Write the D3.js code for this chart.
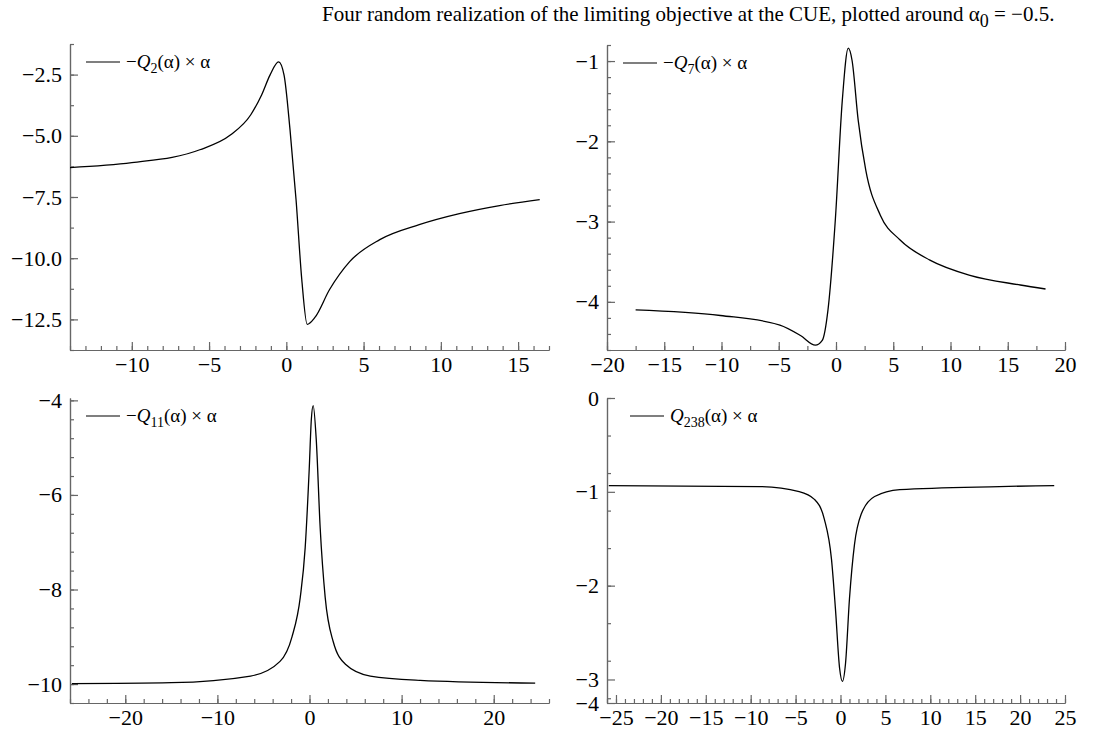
<!DOCTYPE html>
<html>
<head>
<meta charset="utf-8">
<script src="https://cdn.jsdelivr.net/npm/d3@7"></script>
<style>
  body { margin: 0; background: #fff; }
</style>
</head>
<body>
<svg id="svg" width="1107" height="736"></svg>
<script>
// curve values
const q2X = [-14, -10, -5.6, -3.6, -2.3, -1.6, -1.05, -0.5, -0.15, 0.24, 0.63, 1.0, 1.35, 1.85, 2.8, 4.1, 6.05, 8.6, 11.2, 13.8, 16.4];
const q2Y = [-6.30, -6.10, -5.57, -4.96, -4.14, -3.33, -2.51, -1.98, -2.51, -4.76, -7.61, -10.87, -12.70, -12.42, -11.28, -10.14, -9.24, -8.63, -8.18, -7.85, -7.61];

const q7X = [-17.5, -10.1, -4.9, -3.1, -1.8, -1.2, -0.7, -0.06, 0.55, 1.07, 1.4, 1.94, 2.6, 3.87, 5.6, 8.2, 11.7, 16.1, 18.3];
const q7Y = [-4.10, -4.17, -4.29, -4.42, -4.54, -4.48, -4.10, -2.98, -1.49, -0.84, -0.99, -1.74, -2.36, -2.92, -3.23, -3.48, -3.67, -3.79, -3.84];

const q11X = [-25.8, -15, -6.4, -3.2, -1.9, -1.0, -0.47, -0.03, 0.2, 0.4, 0.73, 1.16, 1.7, 2.57, 3.9, 6.6, 12, 24.5];
const q11Y = [-9.99, -9.97, -9.83, -9.52, -9.0, -8.16, -7.12, -5.45, -4.40, -4.11, -4.82, -6.70, -8.16, -9.10, -9.58, -9.83, -9.92, -9.98];

const q238X = [-25.8, -9, -4.6, -2.9, -1.8, -1.0, -0.56, -0.1, 0.22, 0.56, 1.0, 1.56, 2.3, 3.8, 6.6, 17.7, 23.8];
const q238Y = [-0.933, -0.944, -0.997, -1.08, -1.29, -1.72, -2.25, -2.88, -3.02, -2.83, -2.14, -1.56, -1.24, -1.05, -0.976, -0.944, -0.933];

// tick labels
const p1XTicks = [-10, -5, 0, 5, 10, 15];
const p1YTicks = [-2.5, -5, -7.5, -10, -12.5];
const p2XTicks = [-20, -15, -10, -5, 0, 5, 10, 15, 20];
const p2YTicks = [-1, -2, -3, -4];
const p3XTicks = [-20, -10, 0, 10, 20];
const p3YTicks = [-4, -6, -8, -10];
const p4XTicks = [-25, -20, -15, -10, -5, 0, 5, 10, 15, 20, 25];
const p4YTicks = [0, -1, -2, -3, -4];

const svg = d3.select("#svg");
const axisColor = "#666";
const serif = "'Liberation Serif', 'Times New Roman', serif";

const panels = [
  { xs: q2X, ys: q2Y, sub: "2", sign: "\u2212", legX: 16,
    xDom: [-14, 17], xRange: [70, 549], yDom: [-13.75, -1.25], yRange: [350, 44],
    xTicks: p1XTicks, xMinor: d3.range(-14, 17.01, 1),
    yTicks: p1YTicks, yMinor: d3.range(-13.75, -1.2, 1.25), yFmt: d3.format(".1f") },
  { xs: q7X, ys: q7Y, sub: "7", sign: "\u2212", legX: 16,
    xDom: [-20, 20], xRange: [607, 1065], yDom: [-4.6, -0.8], yRange: [350, 45],
    xTicks: p2XTicks, xMinor: d3.range(-20, 20.01, 2.5),
    yTicks: p2YTicks, yMinor: d3.range(-4.6, -0.79, 0.2), yFmt: d3.format("d") },
  { xs: q11X, ys: q11Y, sub: "11", sign: "\u2212", legX: 16,
    xDom: [-26, 26], xRange: [70, 549], yDom: [-10.4, -3.95], yRange: [703, 398],
    xTicks: p3XTicks, xMinor: d3.range(-26, 26.01, 2),
    yTicks: p3YTicks, yMinor: d3.range(-10.4, -3.9, 0.4), yFmt: d3.format("d") },
  // the bottom of this axis jumps straight to -4, as in the original
  { xs: q238X, ys: q238Y, sub: "238", sign: "", legX: 23,
    xDom: [-26, 25], xRange: [607, 1065], yDom: [-4, -3.24, 0], yRange: [703, 702, 398],
    xTicks: p4XTicks, xMinor: d3.range(-26, 25.01, 1),
    yTicks: p4YTicks, yMinor: d3.range(-3.2, 0.01, 0.4), yFmt: d3.format("d") }
];

function styleAxis(g) {
  g.selectAll("path, line").attr("stroke", axisColor).attr("stroke-width", 1.2);
  g.selectAll("text")
    .attr("font-family", serif)
    .attr("font-size", 22)
    .attr("fill", "#000");
}

panels.forEach(p => {
  const x = d3.scaleLinear().domain(p.xDom).range(p.xRange);
  const y = d3.scaleLinear().domain(p.yDom).range(p.yRange);
  const x0 = p.xRange[0], yb = p.yRange[0], yt = p.yRange[p.yRange.length - 1];

  // minor ticks
  svg.append("g")
    .attr("transform", `translate(0, ${yb})`)
    .call(d3.axisBottom(x).tickValues(p.xMinor).tickSize(-4).tickSizeOuter(0).tickFormat(""))
    .call(styleAxis);
  svg.append("g")
    .attr("transform", `translate(${x0}, 0)`)
    .call(d3.axisLeft(y).tickValues(p.yMinor).tickSize(-4).tickSizeOuter(0).tickFormat(""))
    .call(styleAxis);

  // major ticks
  svg.append("g")
    .attr("transform", `translate(0, ${yb})`)
    .call(d3.axisBottom(x).tickValues(p.xTicks).tickSize(-8).tickSizeOuter(0).tickPadding(6))
    .call(styleAxis);
  svg.append("g")
    .attr("transform", `translate(${x0}, 0)`)
    .call(d3.axisLeft(y).tickValues(p.yTicks).tickSize(-8).tickSizeOuter(0).tickPadding(8).tickFormat(p.yFmt))
    .call(styleAxis);

  // curve
  const pts = p.xs.map((v, i) => [v, p.ys[i]]);
  svg.append("path")
    .datum(pts)
    .attr("fill", "none")
    .attr("stroke", "#000")
    .attr("stroke-width", 1.3)
    .attr("d", d3.line().x(d => x(d[0])).y(d => y(d[1])).curve(d3.curveMonotoneX));

  // legend
  const lx = x0 + p.legX, ly = yt + 18;
  svg.append("line")
    .attr("x1", lx).attr("x2", lx + 34).attr("y1", ly).attr("y2", ly)
    .attr("stroke", "#000").attr("stroke-width", 1.2);
  const t = svg.append("text")
    .attr("x", lx + 40).attr("y", ly + 6)
    .attr("font-family", serif)
    .attr("font-size", 19);
  if (p.sign) t.append("tspan").text(p.sign);
  t.append("tspan").attr("font-style", "italic").text("Q");
  t.append("tspan").attr("font-size", 14).attr("dy", 5).text(p.sub);
  t.append("tspan").attr("dy", -5).text("(\u03b1) \u00d7 \u03b1");
});

// title
const title = svg.append("text")
  .attr("x", 322).attr("y", 21)
  .attr("font-family", serif)
  .attr("font-size", 21);
title.append("tspan").text("Four random realization of the limiting objective at the CUE, plotted around \u03b1");
title.append("tspan").attr("font-size", 18).attr("dy", 6).text("0");
title.append("tspan").attr("dy", -6).text(" = \u22120.5.");
</script>
</body>
</html>
